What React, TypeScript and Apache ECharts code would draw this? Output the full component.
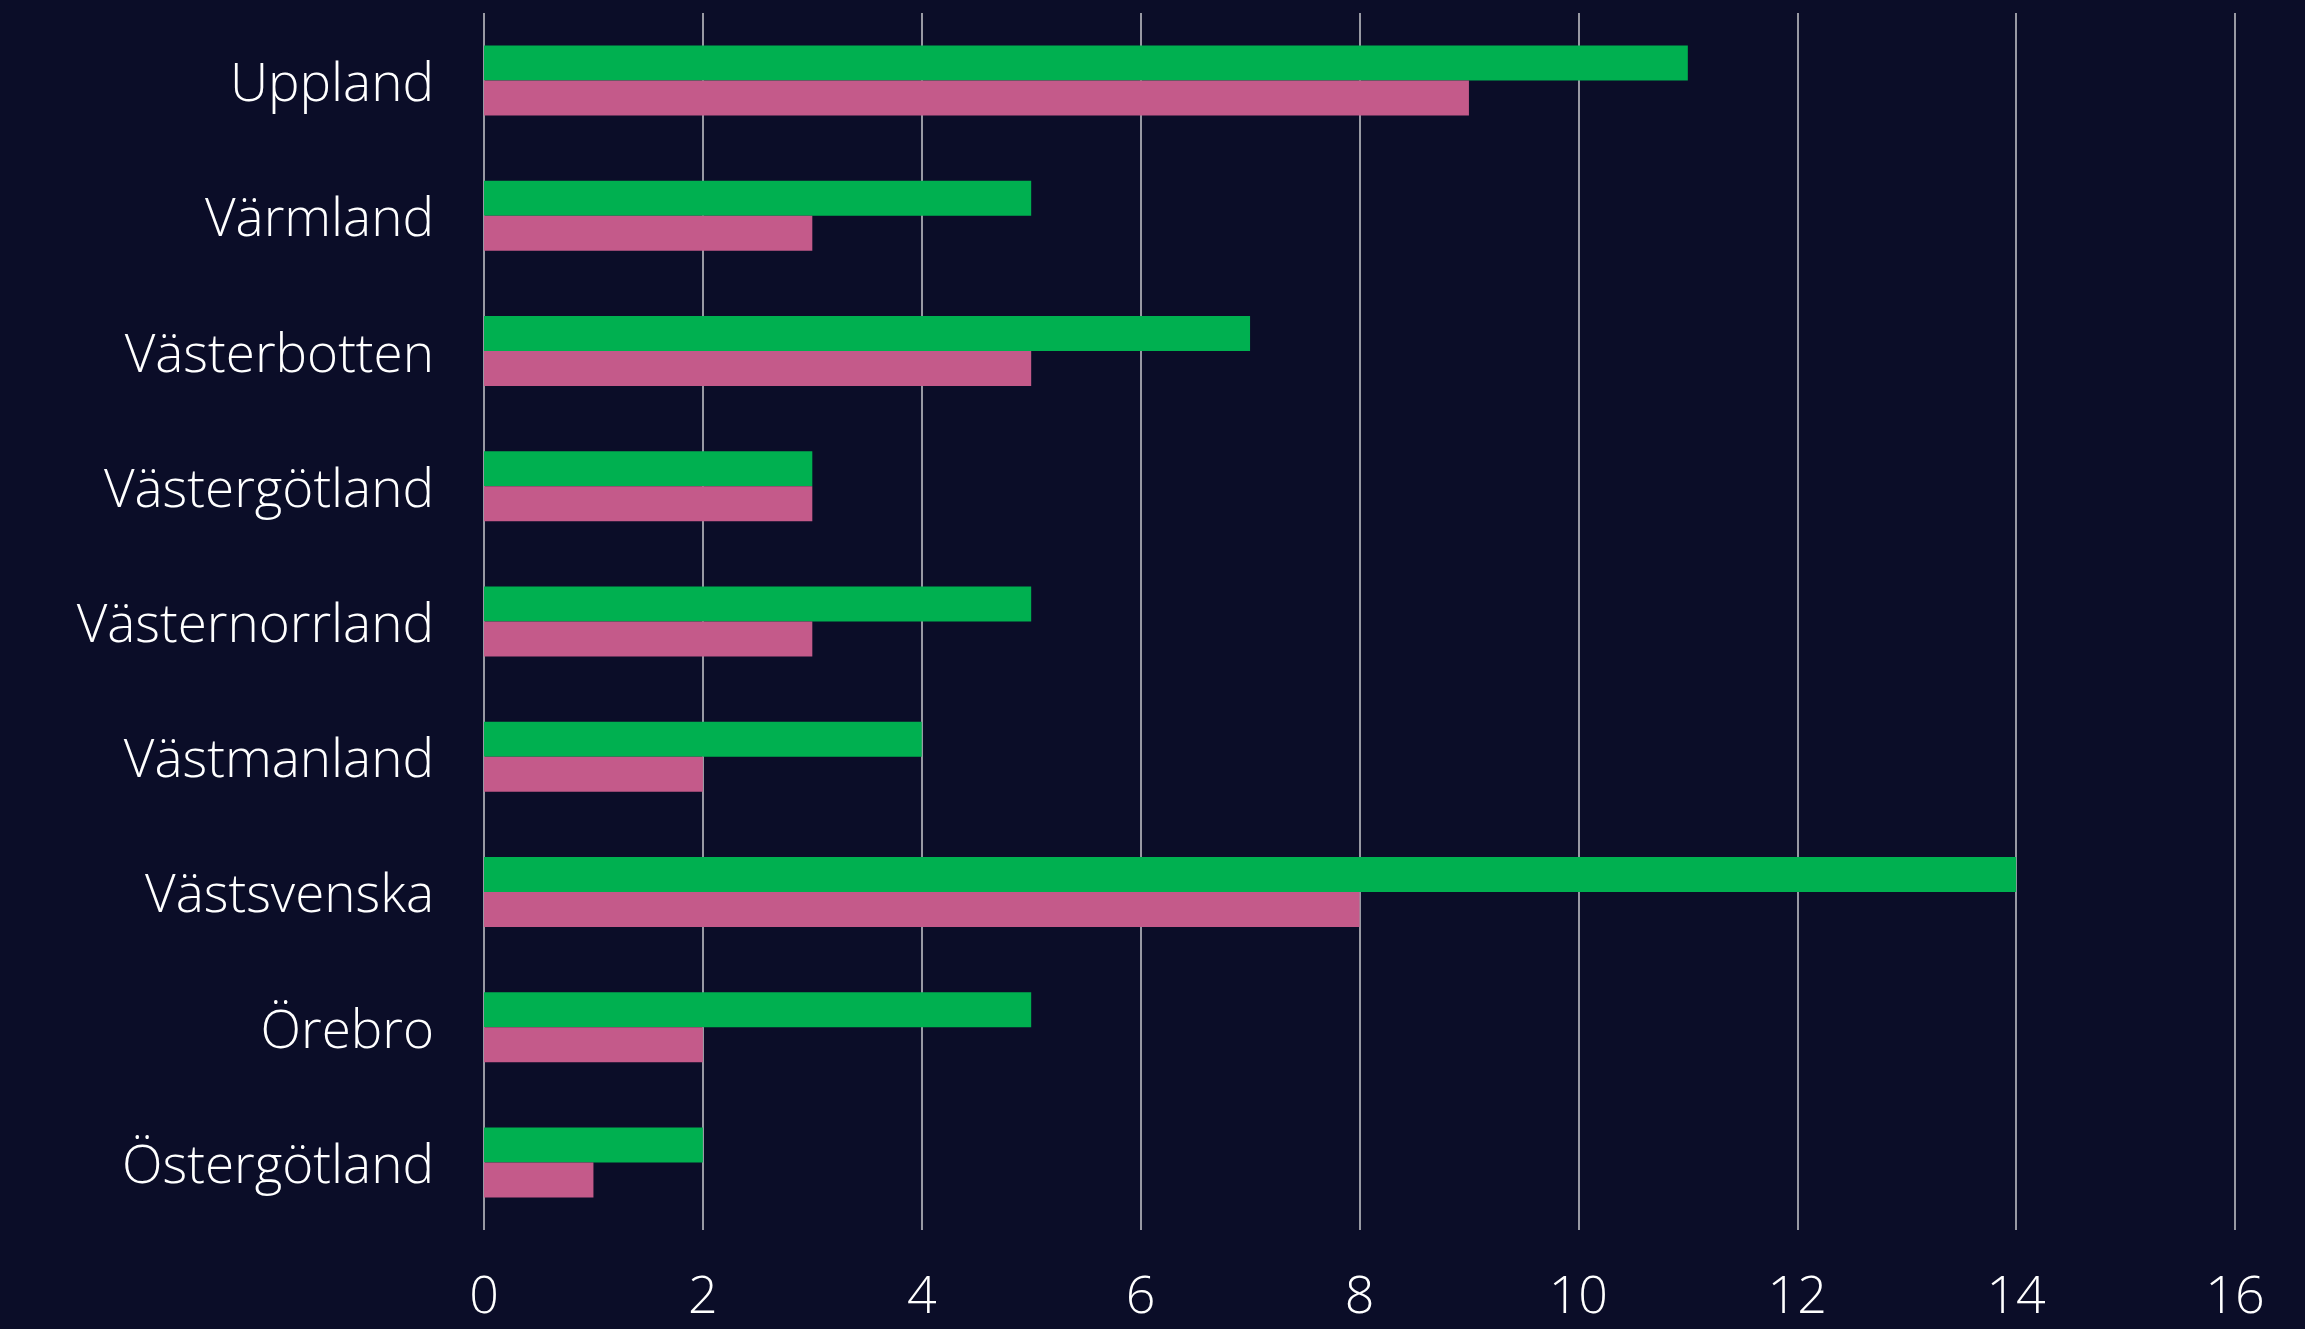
import React, { useEffect, useRef } from "react";
import * as echarts from "echarts";

const categories = [
  "Uppland",
  "Värmland",
  "Västerbotten",
  "Västergötland",
  "Västernorrland",
  "Västmanland",
  "Västsvenska",
  "Örebro",
  "Östergötland",
];
const greenValues = [11, 5, 7, 3, 5, 4, 14, 5, 2];
const pinkValues = [9, 3, 5, 3, 3, 2, 8, 2, 1];
const xTicks = [0, 2, 4, 6, 8, 10, 12, 14, 16];

export default function App() {
  const ref = useRef<HTMLDivElement>(null);
  useEffect(() => {
    if (!ref.current) return;
    const chart = echarts.init(ref.current, undefined, { renderer: "svg" });
    const font = "'Open Sans', sans-serif";
    chart.setOption({
      animation: false,
      backgroundColor: "#0B0D28",
      grid: { left: 484, right: 70, top: 13, bottom: 99, containLabel: false },
      xAxis: {
        type: "value",
        min: xTicks[0],
        max: xTicks[xTicks.length - 1],
        interval: 2,
        axisLine: { show: false },
        axisTick: { show: false },
        splitLine: { show: true, lineStyle: { color: "#C8C8CC", width: 1.5 } },
        axisLabel: {
          color: "#FFFFFF",
          fontFamily: font,
          fontWeight: 300,
          fontSize: 52,
          margin: 36,
        },
      },
      yAxis: {
        type: "category",
        data: categories,
        inverse: true,
        axisLine: { show: false },
        axisTick: { show: false },
        splitLine: { show: false },
        axisLabel: {
          color: "#FFFFFF",
          fontFamily: font,
          fontWeight: 300,
          fontSize: 53,
          margin: 50,
          padding: [0, 0, 9, 0],
        },
      },
      series: [
        {
          type: "bar",
          data: greenValues,
          barWidth: 35,
          barGap: "0%",
          itemStyle: { color: "#00B050" },
        },
        {
          type: "bar",
          data: pinkValues,
          barWidth: 35,
          barGap: "0%",
          itemStyle: { color: "#C45A8A" },
        },
      ],
    });
    return () => chart.dispose();
  }, []);
  return (
    <div
      ref={ref}
      style={{ position: "fixed", left: 0, top: 0, width: 2305, height: 1329 }}
    />
  );
}
